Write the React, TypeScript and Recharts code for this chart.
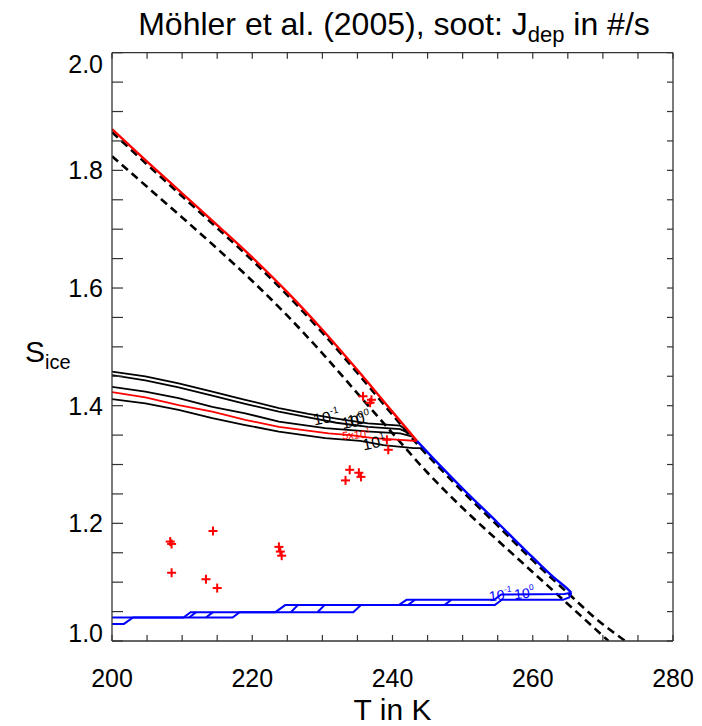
import React from 'react';
import { ComposedChart, Line, Scatter, XAxis, YAxis } from 'recharts';

// ---------- data (T in K, S_ice) ----------
const redBoundary = [
  [200, 1.870], [205, 1.815], [210, 1.761], [215, 1.707], [220, 1.652],
  [225, 1.593], [230, 1.529], [235, 1.4605], [240, 1.3895], [243.5, 1.340],
];
const blueBoundary = [
  [243.5, 1.340], [246.8, 1.298], [250.0, 1.259], [255.0, 1.201], [260.0, 1.142],
  [263.0, 1.108], [265.0, 1.088], [265.5, 1.082],
];
const dashedUpper = [
  [200, 1.865], [205, 1.810], [210, 1.756], [215, 1.702], [220, 1.647],
  [225, 1.588], [230, 1.524], [235, 1.4555], [240, 1.3845], [243.5, 1.335],
  [246.8, 1.293], [250, 1.254], [255, 1.196], [260, 1.137], [265.5, 1.076],
  [269.0, 1.038], [273.2, 1.0],
];
const dashedLower = [
  [200, 1.824], [205, 1.772], [210, 1.720], [215, 1.667], [220, 1.612],
  [225, 1.553], [230, 1.489], [235, 1.421], [240, 1.353], [245, 1.286],
  [250, 1.226], [255, 1.171], [260, 1.117], [265, 1.063], [270.8, 1.0],
];
const contourTop1 = [
  [200, 1.458], [204.75, 1.450], [209.5, 1.438], [214.3, 1.424], [219.0, 1.410],
  [223.8, 1.396], [228.0, 1.386], [232.0, 1.378], [236.5, 1.370], [241.1, 1.366],
  [242.5, 1.354],
];
const contourTop2 = [
  [200, 1.452], [204.75, 1.443], [209.5, 1.431], [214.3, 1.417], [219.0, 1.403],
  [223.8, 1.390], [228.0, 1.380], [232.0, 1.371], [236.5, 1.364], [241.1, 1.360],
  [242.7, 1.351],
];
const contourMid = [
  [200, 1.432], [204.75, 1.424], [209.5, 1.413], [214.3, 1.398], [219.0, 1.387],
  [223.8, 1.373], [230.4, 1.362], [236.8, 1.356], [241.1, 1.353], [243.0, 1.347],
];
const contourRed = [
  [200, 1.423], [204.75, 1.414], [209.5, 1.401], [214.3, 1.390], [219.0, 1.376],
  [223.8, 1.364], [230.9, 1.353], [234.0, 1.350], [237.3, 1.345], [241.1, 1.342],
  [243.5, 1.340],
];
const contourLow = [
  [200, 1.411], [204.75, 1.404], [209.5, 1.393], [214.3, 1.379], [219.0, 1.367],
  [223.8, 1.356], [230.4, 1.345], [235.4, 1.340], [238.7, 1.333], [243.0, 1.328],
  [244.5, 1.328],
];
const blueContourA = [
  [265.5, 1.082], [264.5, 1.080], [255.5, 1.079], [254.5, 1.070], [242.0, 1.070],
  [240.9, 1.061], [224.7, 1.061], [223.3, 1.049], [211.2, 1.049], [210.2, 1.040],
  [200, 1.040],
];
const blueContourB = [
  [265.5, 1.082], [265.2, 1.074], [264.3, 1.070], [255.6, 1.070], [254.6, 1.061],
  [235.5, 1.061], [234.4, 1.049], [218.2, 1.049], [217.2, 1.040], [203.0, 1.040],
  [201.7, 1.029], [200, 1.029],
];
const blueSteps = [
  [211.0, 1.040], [212.0, 1.049], null, [213.4, 1.040], [214.4, 1.049], null,
  [225.5, 1.049], [226.5, 1.061], null, [229.3, 1.049], [230.3, 1.061], null,
  [242.2, 1.061], [243.2, 1.070], null, [247.4, 1.061], [248.4, 1.070],
];
const measurements = [
  [235.8, 1.416], [237.0, 1.410], [236.8, 1.405],
  [239.2, 1.342], [239.4, 1.325],
  [233.3, 1.273], [233.9, 1.291], [235.2, 1.286], [235.5, 1.279],
  [208.3, 1.169], [208.5, 1.165], [214.4, 1.187], [208.5, 1.116],
  [213.4, 1.105], [215.0, 1.090],
  [223.8, 1.160], [224.0, 1.152], [224.2, 1.145],
];
const blackLabels = [
  { t: 230.6, s: 1.378, base: '10', exp: '-1' },
  { t: 234.4, s: 1.371, base: '10', exp: '0' },
  { t: 235.2, s: 1.375, base: '10', exp: '0' },
  { t: 237.4, s: 1.335, base: '10', exp: '1' },
];
const redLabels = [{ t: 234.8, s: 1.349, base: '5x10', exp: '1' }];
const blueLabels = [
  { t: 255.4, s: 1.076, base: '10', exp: '-1' },
  { t: 258.8, s: 1.079, base: '10', exp: '0' },
];

const xTicks = [200, 205, 210, 215, 220, 225, 230, 235, 240, 245, 250, 255, 260, 265, 270, 275, 280];
const yTicks = [1.0, 1.05, 1.1, 1.15, 1.2, 1.25, 1.3, 1.35, 1.4, 1.45, 1.5, 1.55, 1.6, 1.65, 1.7, 1.75, 1.8, 1.85, 1.9, 1.95, 2.0];

const toPts = (arr: any[]) => arr.map((p) => (p ? { t: p[0], s: p[1] } : { t: null, s: null }));

const FONT = '"Liberation Sans", Arial, Helvetica, sans-serif';
const AX = '#333';

const BottomTick = (props: any) => {
  const { x, y, payload } = props;
  const v = payload.value;
  return (
    <g>
      <line x1={x} y1={y} x2={x} y2={y - 6} stroke={AX} strokeWidth={1.2} />
      {Math.round(v) % 20 === 0 && (
        <text x={x} y={y + 45.5} textAnchor="middle" fontSize={25} fontFamily={FONT} fill="#000">
          {v}
        </text>
      )}
    </g>
  );
};
const TopTick = (props: any) => {
  const { x, y } = props;
  return <line x1={x} y1={y} x2={x} y2={y + 6} stroke={AX} strokeWidth={1.2} />;
};
const LeftTick = (props: any) => {
  const { x, y, payload } = props;
  const v = payload.value;
  const labeled = Math.round(v * 100) % 20 === 0;
  let dy = 9;
  if (Math.abs(v - 2.0) < 1e-6) dy = 20.5;
  if (Math.abs(v - 1.0) < 1e-6) dy = 1;
  return (
    <g>
      <line x1={x} y1={y} x2={x + 11} y2={y} stroke={AX} strokeWidth={1.2} />
      {labeled && (
        <text x={x - 9} y={y + dy} textAnchor="end" fontSize={25} fontFamily={FONT} fill="#000">
          {v.toFixed(1)}
        </text>
      )}
    </g>
  );
};
const RightTick = (props: any) => {
  const { x, y } = props;
  return <line x1={x} y1={y} x2={x - 6} y2={y} stroke={AX} strokeWidth={1.2} />;
};

const Plus = (props: any) => {
  const { cx, cy } = props;
  if (cx == null || cy == null) return null;
  return (
    <g>
      <line x1={cx - 4.5} y1={cy} x2={cx + 4.5} y2={cy} stroke="#ff0000" strokeWidth={2} />
      <line x1={cx} y1={cy - 4.5} x2={cx} y2={cy + 4.5} stroke="#ff0000" strokeWidth={2} />
    </g>
  );
};

const makeLabel = (color: string, size: number, rot: number) => (props: any) => {
  const { cx, cy, payload } = props;
  if (cx == null || cy == null) return null;
  return (
    <text
      x={cx}
      y={cy}
      textAnchor="middle"
      dominantBaseline="middle"
      fontSize={size}
      fontFamily={FONT}
      fill={color}
      transform={`rotate(${rot} ${cx} ${cy})`}
    >
      {payload.base}
      <tspan dy={-size * 0.4} fontSize={size * 0.6}>
        {payload.exp}
      </tspan>
    </text>
  );
};

export default function App() {
  const common = { isAnimationActive: false, dot: false, activeDot: false, legendType: 'none' as const };
  return (
    <div style={{ position: 'relative', width: 694, height: 718 }}>
      <ComposedChart width={694} height={718} margin={{ top: 39.7, right: 24, bottom: 25, left: 44 }}>
        <XAxis
          xAxisId="b"
          dataKey="t"
          type="number"
          domain={[200, 280]}
          ticks={xTicks}
          allowDataOverflow
          orientation="bottom"
          height={60}
          tickSize={0}
          tickMargin={0}
          tickLine={false}
          tick={<BottomTick />}
          axisLine={{ stroke: AX, strokeWidth: 1.3 }}
          interval={0}
        />
        <XAxis
          xAxisId="t"
          dataKey="t"
          type="number"
          domain={[200, 280]}
          ticks={xTicks}
          allowDataOverflow
          orientation="top"
          height={5}
          tickSize={0}
          tickMargin={0}
          tickLine={false}
          tick={<TopTick />}
          axisLine={{ stroke: AX, strokeWidth: 1.3 }}
          interval={0}
        />
        <YAxis
          yAxisId="l"
          dataKey="s"
          type="number"
          domain={[1.0, 2.0]}
          ticks={yTicks}
          allowDataOverflow
          orientation="left"
          width={60}
          tickSize={0}
          tickMargin={0}
          tickLine={false}
          tick={<LeftTick />}
          axisLine={{ stroke: AX, strokeWidth: 1.3 }}
          interval={0}
        />
        <YAxis
          yAxisId="r"
          dataKey="s"
          type="number"
          domain={[1.0, 2.0]}
          ticks={yTicks}
          allowDataOverflow
          orientation="right"
          width={5}
          tickSize={0}
          tickMargin={0}
          tickLine={false}
          tick={<RightTick />}
          axisLine={{ stroke: AX, strokeWidth: 1.3 }}
          interval={0}
        />
        <Line {...common} xAxisId="t" yAxisId="r" data={toPts(redBoundary)} dataKey="s" stroke="none" />

        <Line {...common} type="monotone" xAxisId="b" yAxisId="l" data={toPts(dashedUpper)} dataKey="s" stroke="#000" strokeWidth={2.6} strokeDasharray="8 5" />
        <Line {...common} type="monotone" xAxisId="b" yAxisId="l" data={toPts(dashedLower)} dataKey="s" stroke="#000" strokeWidth={2.6} strokeDasharray="8 5" />

        <Line {...common} xAxisId="b" yAxisId="l" data={toPts(contourTop1)} dataKey="s" stroke="#000" strokeWidth={1.8} />
        <Line {...common} xAxisId="b" yAxisId="l" data={toPts(contourTop2)} dataKey="s" stroke="#000" strokeWidth={1.8} />
        <Line {...common} xAxisId="b" yAxisId="l" data={toPts(contourMid)} dataKey="s" stroke="#000" strokeWidth={1.8} />
        <Line {...common} xAxisId="b" yAxisId="l" data={toPts(contourLow)} dataKey="s" stroke="#000" strokeWidth={1.8} />
        <Line {...common} xAxisId="b" yAxisId="l" data={toPts(contourRed)} dataKey="s" stroke="#ff0000" strokeWidth={1.8} />

        <Line {...common} xAxisId="b" yAxisId="l" data={toPts(blueContourA)} dataKey="s" stroke="#0000ff" strokeWidth={2} />
        <Line {...common} xAxisId="b" yAxisId="l" data={toPts(blueContourB)} dataKey="s" stroke="#0000ff" strokeWidth={2} />
        <Line {...common} xAxisId="b" yAxisId="l" data={toPts(blueSteps)} dataKey="s" stroke="#0000ff" strokeWidth={2} connectNulls={false} />

        <Line {...common} type="monotone" xAxisId="b" yAxisId="l" data={toPts(redBoundary)} dataKey="s" stroke="#ff0000" strokeWidth={2.4} />
        <Line {...common} type="monotone" xAxisId="b" yAxisId="l" data={toPts(blueBoundary)} dataKey="s" stroke="#0000ff" strokeWidth={2.4} />

        <Scatter xAxisId="b" yAxisId="l" data={toPts(measurements)} dataKey="s" shape={<Plus />} isAnimationActive={false} legendType="none" />
        <Scatter xAxisId="b" yAxisId="l" data={blackLabels} dataKey="s" shape={makeLabel('#000', 16, -12)} isAnimationActive={false} legendType="none" />
        <Scatter xAxisId="b" yAxisId="l" data={redLabels} dataKey="s" shape={makeLabel('#ff0000', 11, -4)} isAnimationActive={false} legendType="none" />
        <Scatter xAxisId="b" yAxisId="l" data={blueLabels} dataKey="s" shape={makeLabel('#0000ff', 14, -6)} isAnimationActive={false} legendType="none" />
      </ComposedChart>
      <div
        style={{
          position: 'absolute',
          left: 0,
          top: -4,
          width: 772,
          textAlign: 'center',
          fontFamily: FONT,
          fontSize: 32,
          lineHeight: '40px',
          color: '#000',
          whiteSpace: 'nowrap',
        }}
      >
        Möhler et al. (2005), soot: J<sub style={{ fontSize: 22, verticalAlign: '-7px', lineHeight: 0 }}>dep</sub> in #/s
      </div>
      <svg
        width={694}
        height={718}
        style={{ position: 'absolute', left: 0, top: 0, pointerEvents: 'none' }}
      >
        <text x={384.5} y={712} textAnchor="middle" fontSize={30} fontFamily={FONT} fill="#000">
          T in K
        </text>
        <text x={17} y={354} fontSize={30} fontFamily={FONT} fill="#000">
          S<tspan fontSize={20} dy={7}>ice</tspan>
        </text>
      </svg>
    </div>
  );
}
